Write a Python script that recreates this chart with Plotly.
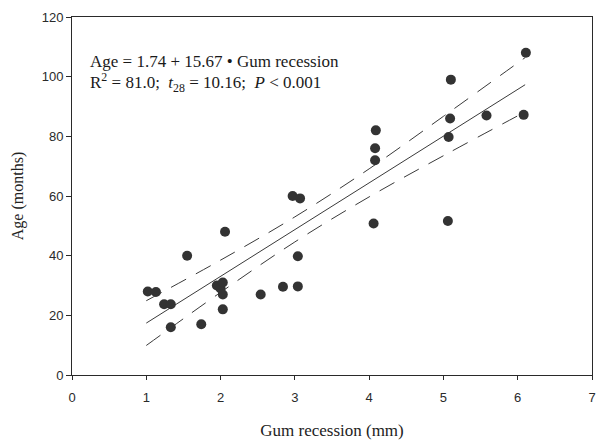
import plotly.graph_objects as go

# Data points (gum recession mm, age months)
gum = [1.02, 1.13, 1.24, 1.33, 1.33, 1.55, 1.74, 1.95, 2.0, 2.03, 2.03, 2.03, 2.06,
       2.54, 2.84, 3.04, 3.04, 2.97, 3.07,
       4.09, 4.08, 4.08, 4.06,
       5.09, 5.07, 5.06, 5.1,
       5.58, 6.08, 6.11]
age = [28, 27.8, 23.7, 23.7, 16, 40, 17, 30, 29, 31, 27, 22, 48,
       27, 29.6, 29.7, 39.8, 60, 59.2,
       82, 76, 72, 50.8,
       86, 79.8, 51.6, 99,
       87, 87.2, 108]

# Regression line and confidence band
fit_x = [1.0, 6.1]
fit_y = [17.4, 97.3]
band_x = [1.0, 2.0, 3.0, 4.0, 5.0, 6.1]
band_upper = [24.9, 38.5, 53.0, 69.1, 86.7, 106.4]
band_lower = [9.9, 27.7, 44.6, 59.7, 73.5, 88.2]

x_ticks = [0, 1, 2, 3, 4, 5, 6, 7]
y_ticks = [0, 20, 40, 60, 80, 100, 120]

line_col = "#3a3a3a"
fig = go.Figure()
fig.add_trace(go.Scatter(x=band_x, y=band_upper, mode="lines",
                         line=dict(color=line_col, width=1, dash="17px,11px", shape="spline")))
fig.add_trace(go.Scatter(x=band_x, y=band_lower, mode="lines",
                         line=dict(color=line_col, width=1, dash="17px,11px", shape="spline")))
fig.add_trace(go.Scatter(x=fit_x, y=fit_y, mode="lines",
                         line=dict(color=line_col, width=1)))
fig.add_trace(go.Scatter(x=gum, y=age, mode="markers",
                         marker=dict(color="#333333", size=10, line=dict(width=0))))

tick_font = dict(family="Liberation Sans, Arial", size=13, color="#2a2a2a")
serif = "Liberation Serif, Times New Roman"

fig.update_layout(
    width=603, height=443,
    margin=dict(l=72, r=11, t=17, b=68),
    paper_bgcolor="white", plot_bgcolor="white",
    showlegend=False,
    xaxis=dict(range=[0, 7], tickvals=x_ticks, ticktext=[str(v) for v in x_ticks],
               showline=True, linecolor="#2a2a2a", linewidth=1, mirror=True,
               ticks="outside", ticklen=4, tickcolor="#2a2a2a", ticklabelstandoff=6,
               showgrid=False, zeroline=False, tickfont=tick_font, automargin=False,
               title=dict(text="Gum recession (mm)", font=dict(family=serif, size=17, color="#222"),
                          standoff=20)),
    yaxis=dict(range=[0, 120], tickvals=y_ticks, ticktext=[str(v) for v in y_ticks],
               showline=True, linecolor="#2a2a2a", linewidth=1, mirror=True,
               ticks="outside", ticklen=5, tickcolor="#2a2a2a",
               showgrid=False, zeroline=False, tickfont=tick_font, automargin=False,
               title=dict(text="Age (months)", font=dict(family=serif, size=16, color="#222"),
                          standoff=14)),
    annotations=[
        dict(xref="x", yref="y", x=0.22, y=105, xanchor="left", yanchor="middle",
             text="Age = 1.74 + 15.67 \u2022 Gum recession", showarrow=False,
             font=dict(family=serif, size=17, color="#1a1a1a")),
        dict(xref="x", yref="y", x=0.22, y=98, xanchor="left", yanchor="middle",
             text="R<sup>2</sup> = 81.0;  <i>t</i><sub>28</sub> = 10.16;  <i>P</i> &lt; 0.001",
             showarrow=False, font=dict(family=serif, size=17, color="#1a1a1a")),
    ],
)

fig.write_html("out.html", config={"displayModeBar": False},
               post_script="document.body.style.margin='0px';document.body.style.overflow='hidden';")
